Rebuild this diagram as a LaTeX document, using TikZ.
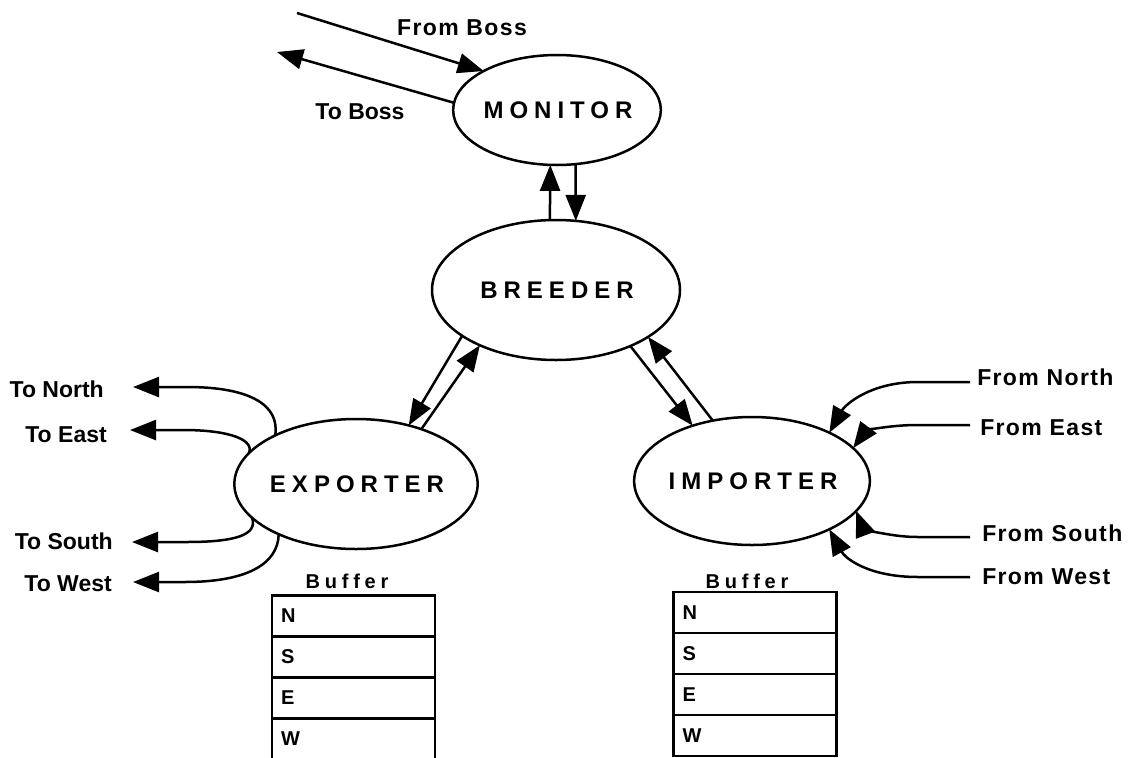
\documentclass[tikz,border=0pt]{standalone}
\usepackage{fontspec}
\setmainfont{Liberation Sans}
\newfontfamily\widefont[LetterSpace=25]{Liberation Sans}
\newfontfamily\buffont[LetterSpace=24]{Liberation Sans}
\newfontfamily\fromfont[LetterSpace=6]{Liberation Sans}
\usetikzlibrary{shapes.geometric,arrows.meta}
\begin{document}
\begin{tikzpicture}[x=1pt,y=-1pt,line width=2.5pt,
  proc/.style={ellipse,draw,line width=2.5pt,inner sep=0pt,outer sep=0pt,
    font=\widefont\bfseries\fontsize{24}{28}\selectfont},
  lbl/.style={inner sep=0pt,font=\bfseries\fontsize{23}{27}\selectfont},
  flbl/.style={inner sep=0pt,font=\fromfont\bfseries\fontsize{23}{27}\selectfont},
  buf/.style={inner sep=0pt,font=\buffont\bfseries\fontsize{20}{24}\selectfont},
  cell/.style={draw,line width=2.5pt,minimum height=41pt,text width=145pt,
    inner xsep=9pt,inner ysep=0pt,align=left,
    font=\bfseries\fontsize{20}{24}\selectfont},
  ar/.style={-{Triangle[length=26pt,width=20pt]}}]
\fill[white] (0,0) rectangle (1136,758);
\useasboundingbox (0,0) rectangle (1136,758);

% processes
\node[proc,minimum width=178pt,minimum height=110pt] (monitor) at (557,110) {MONITOR\kern-2pt};
\node[proc,minimum width=248pt,minimum height=140pt] (breeder) at (556,290) {BREEDER\kern-2pt};
\node[proc,minimum width=206pt,minimum height=130pt] (exporter) at (356,484) {EXPORTER\kern-2pt};
\node[proc,minimum width=200pt,minimum height=128pt] (importer) at (752,481) {IMPORTER\kern-2pt};

% labels
\node[flbl] (fromboss) at (462,28) {From Boss};
\node[lbl] (toboss) at (360,112) {To Boss};
\node[lbl,anchor=east] (tonorth) at (105,389) {To North};
\node[lbl,anchor=east] (toeast) at (108,435) {To East};
\node[lbl,anchor=east] (tosouth) at (114,541) {To South};
\node[lbl,anchor=east] (towest) at (113,584) {To West};
\node[flbl,anchor=west] (fromnorth) at (976,377) {From North};
\node[flbl,anchor=west] (fromeast) at (979,428) {From East};
\node[flbl,anchor=west] (fromsouth) at (981,533) {From South};
\node[flbl,anchor=west] (fromwest) at (981,577) {From West};

% buffers
\node[buf] (lbuf) at (347,581) {Buffer};
\node[cell] (lN) at (353.5,616) {N};
\node[cell] (lS) at (353.5,657) {S};
\node[cell] (lE) at (353.5,698) {E};
\node[cell] (lW) at (353.5,739) {W};
\node[buf] (rbuf) at (747,581) {Buffer};
\node[cell] (rN) at (755,612.5) {N};
\node[cell] (rS) at (755,653.5) {S};
\node[cell] (rE) at (755,694.5) {E};
\node[cell] (rW) at (755,735.5) {W};

% boss connectors
\coordinate (fbS) at (297,13);
\coordinate (tbE) at (277,52);
\draw[ar] (fbS) -- (monitor.152);
\draw[ar] (monitor.176) -- (tbE);

% monitor - breeder
\draw[ar] (breeder.95) -- (monitor.263);
\draw[ar] (monitor.289) -- (breeder.74);

% breeder - exporter
\draw[ar] (breeder.206) -- (exporter.48);
\draw[ar] (exporter.40) -- (breeder.216);

% breeder - importer
\draw[ar] (breeder.323) -- (importer.137);
\draw[ar] (importer.123) -- (breeder.333);

% exporter outputs
\coordinate (tnT) at (133,387);
\coordinate (teT) at (130,430);
\coordinate (tsT) at (132,542);
\coordinate (twT) at (133,582);
\draw[ar] (exporter.149) .. controls (280,405) and (250,387) .. (187,387) -- (tnT);
\draw[ar] (exporter.164) .. controls (255,440) and (230,430) .. (183,430) -- (teT);
\draw[ar] (exporter.198) .. controls (258,535) and (235,542) .. (187,542) -- (tsT);
\draw[ar] (exporter.213) .. controls (278,565) and (245,582) .. (185,582) -- (twT);

% importer inputs
\coordinate (fnS) at (970,382);
\coordinate (feS) at (970,425);
\coordinate (fsS) at (970,537);
\coordinate (fwS) at (970,577);
\draw[ar] (fnS) -- (918,382) .. controls (870,382) and (845,405) .. (importer.32);
\draw[ar] (feS) -- (918,425) .. controls (885,425) and (865,432) .. (importer.18);
\draw[ar] (fsS) -- (918,537) .. controls (885,537) and (862,526) .. (importer.344);
\draw[ar] (fwS) -- (918,577) .. controls (868,577) and (845,558) .. (importer.328);
\end{tikzpicture}
\end{document}
